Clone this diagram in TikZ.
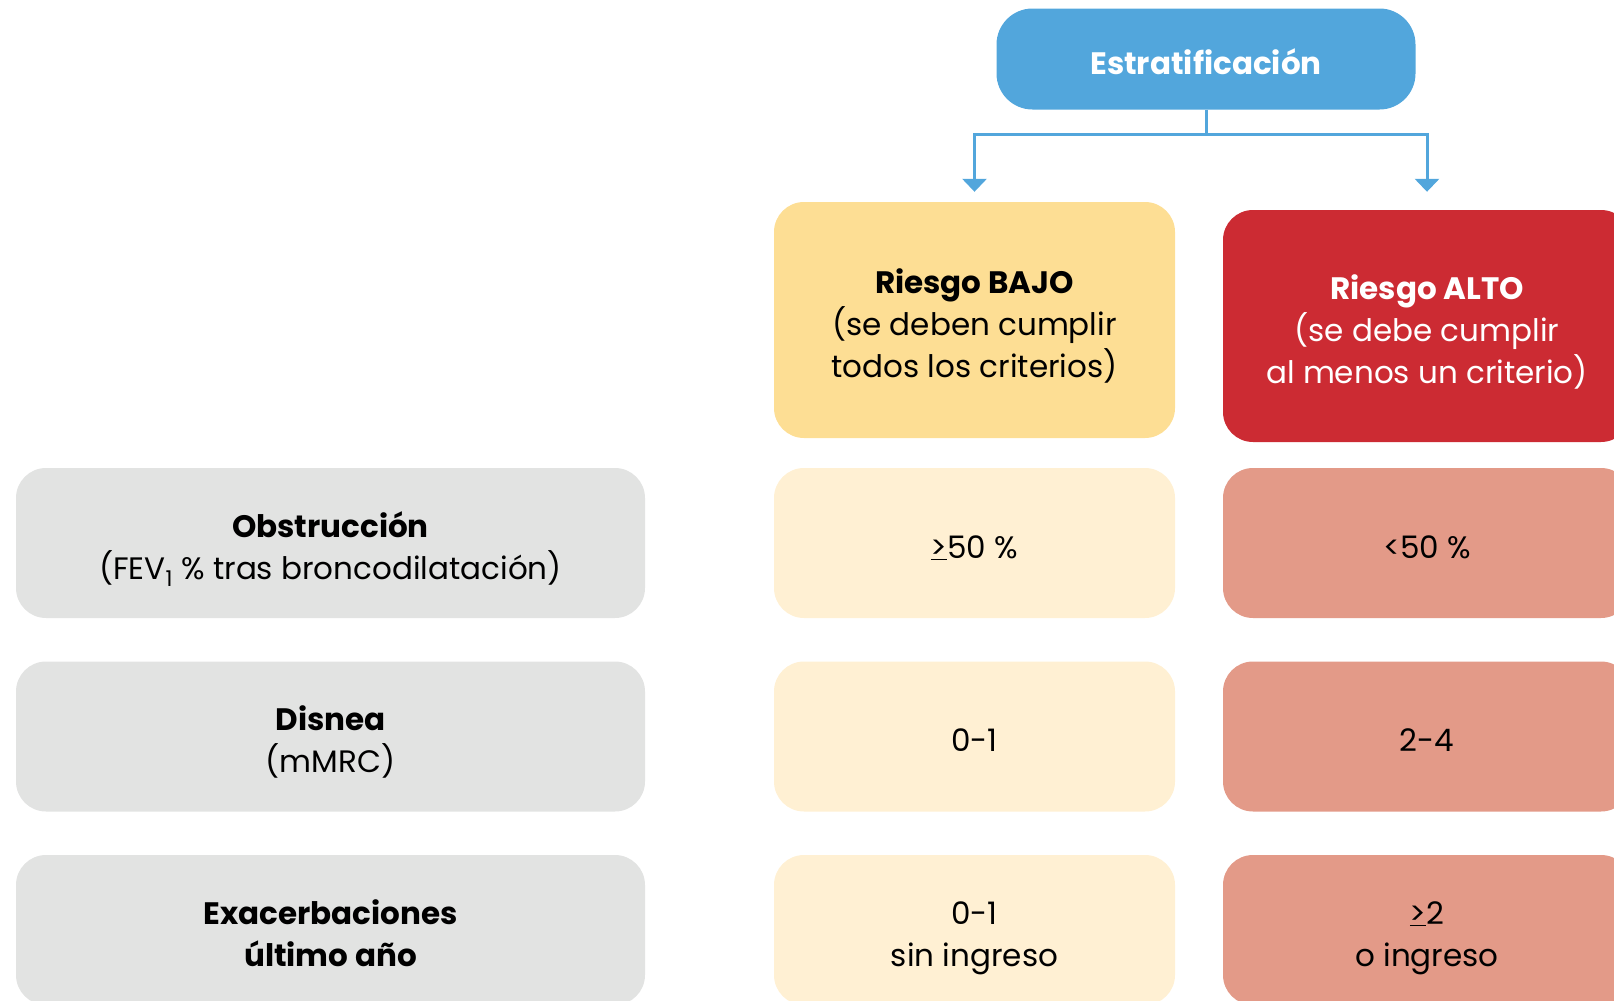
\documentclass[tikz,border=0pt]{standalone}
\usepackage{fontspec}
\setmainfont{Poppins}
\usetikzlibrary{arrows.meta}

\definecolor{azul}{HTML}{52A6DC}
\definecolor{amarillo}{HTML}{FDDE94}
\definecolor{rojo}{HTML}{CC2B33}
\definecolor{crema}{HTML}{FFF0D3}
\definecolor{salmon}{HTML}{E39A88}
\definecolor{gris}{HTML}{E2E3E2}

% struts for first and last line
\newcommand{\sube}{\rule{0pt}{40pt}}
\newcommand{\baja}{\rule[-10pt]{0pt}{10pt}}

\tikzset{
  caja/.style={rounded corners=30pt, align=center, inner sep=0pt,
    font=\fontsize{31}{42}\selectfont},
  fila/.style={caja, minimum height=150pt},
  criterio/.style={fila, fill=gris, minimum width=629pt},
  bajo/.style={fila, fill=crema, minimum width=401pt},
  alto/.style={fila, fill=salmon, minimum width=408pt},
  flecha/.style={draw=azul, line width=3pt, -{Triangle[width=24pt,length=13pt]}}
}

\begin{document}
\begin{tikzpicture}[x=1pt,y=-1pt]
  \clip (0,0) rectangle (1614,1001);
  \useasboundingbox (0,0) rectangle (1614,1001);

  \node[caja, fill=azul, text=white, rounded corners=36pt,
    minimum width=419pt, minimum height=101pt] (est) at (1206,59)
    {\sube\bfseries Estratificación\baja};

  \node[caja, fill=amarillo, minimum width=401pt, minimum height=236pt]
    (rbajo) at (974.5,320)
    {\sube\bfseries Riesgo BAJO\\(se deben cumplir\\todos los criterios)\baja};
  \node[caja, fill=rojo, text=white, minimum width=408pt, minimum height=232pt]
    (ralto) at (1427,326)
    {\sube\bfseries Riesgo ALTO\\(se debe cumplir\\al menos un criterio)\baja};

  % criterios
  \node[criterio] (obs) at (330.5,543)
    {\sube\bfseries Obstrucción\\(FEV\textsubscript{1} \% tras broncodilatación)\baja};
  \node[criterio] (disn) at (330.5,736.5) {\sube\bfseries Disnea\\(mMRC)\baja};
  \node[criterio] (exac) at (330.5,930)
    {\sube\bfseries Exacerbaciones\\\bfseries último año\baja};

  \node[bajo] (obsB) at (974.5,543) {\sube\underline{>}50 \%\baja};
  \node[bajo] (disnB) at (974.5,736.5) {\sube 0-1\baja};
  \node[bajo] (exacB) at (974.5,930) {\sube 0-1\\sin ingreso\baja};

  \node[alto] (obsA) at (1427,543) {\sube<50 \%\baja};
  \node[alto] (disnA) at (1427,736.5) {\sube 2-4\baja};
  \node[alto] (exacA) at (1427,930) {\sube\underline{>}2\\o ingreso\baja};

  % ramas
  \draw[azul, line width=3pt] (est.south) -- ++(0,25) coordinate (rama);
  \draw[flecha, shorten >=10pt] (rama) -| (rbajo.north);
  \draw[flecha, shorten >=18pt] (rama) -| (ralto.north);
\end{tikzpicture}
\end{document}
